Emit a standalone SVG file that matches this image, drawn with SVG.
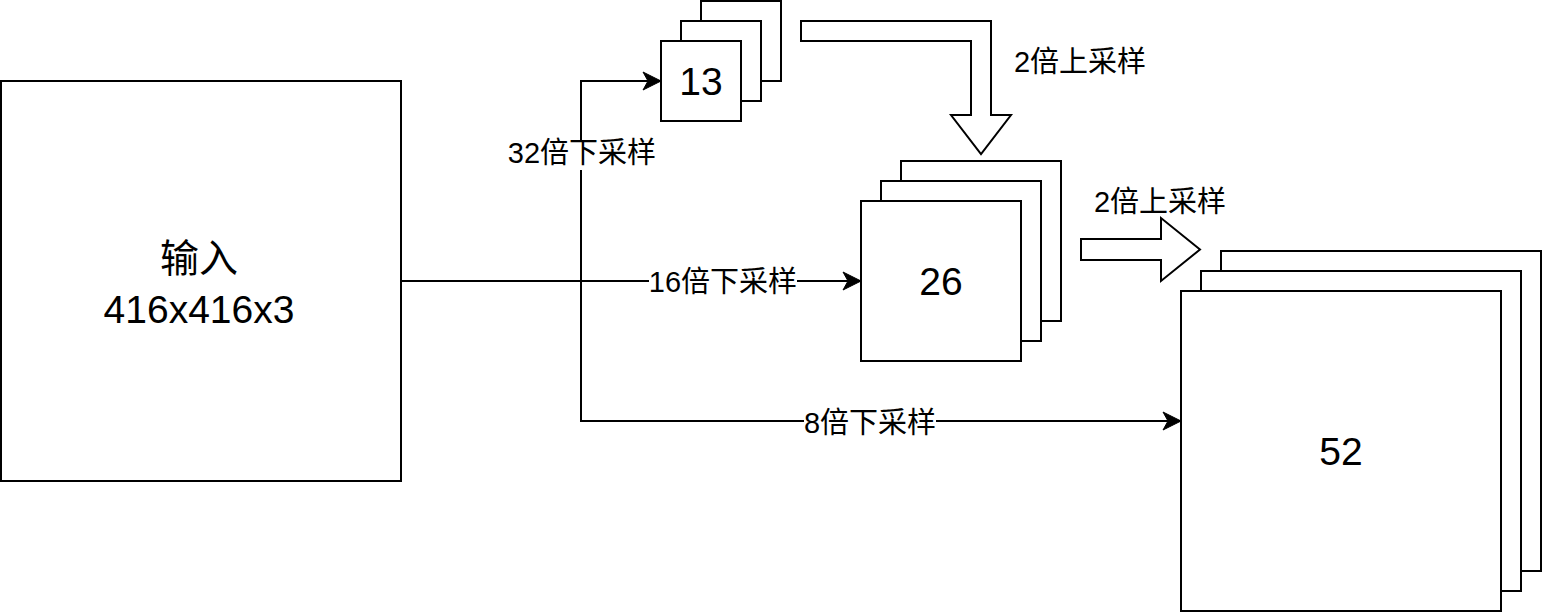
<svg xmlns="http://www.w3.org/2000/svg" width="1542" height="614" viewBox="0 0 1542 614">
  <style>
    .box { fill: #ffffff; stroke: #000000; stroke-width: 2; }
    .line { fill: none; stroke: #000000; stroke-width: 2; }
    .big { font-family: "Liberation Sans", "Noto Sans CJK SC", sans-serif; font-size: 39px; fill: #000000; text-anchor: middle; }
    .lbl { font-family: "Liberation Sans", "Noto Sans CJK SC", sans-serif; font-size: 29px; fill: #000000; text-anchor: middle; }
    .lblbg { fill: #ffffff; stroke: none; }
  </style>
  <defs>
    <marker id="arrow" markerUnits="userSpaceOnUse" markerWidth="20" markerHeight="20" refX="19" refY="10" orient="auto" overflow="visible">
      <path d="M1,1 L19,10 L1,19 L6,10 Z" fill="#000000" stroke="#000000" stroke-width="1"/>
    </marker>
  </defs>
  <rect x="0" y="0" width="1542" height="614" fill="#ffffff"/>

  <g id="input">
    <rect class="box" x="1" y="81" width="400" height="400"/>
    <text class="big" x="199" y="272">输入</text>
    <text class="big" x="199" y="323">416x416x3</text>
  </g>

  <g id="stack13">
    <rect class="box" x="701" y="1" width="80" height="80"/>
    <rect class="box" x="681" y="21" width="80" height="80"/>
    <rect class="box" x="661" y="41" width="80" height="80"/>
    <text class="big" x="701" y="95">13</text>
  </g>

  <g id="stack26">
    <rect class="box" x="901" y="161" width="160" height="160"/>
    <rect class="box" x="881" y="181" width="160" height="160"/>
    <rect class="box" x="861" y="201" width="160" height="160"/>
    <text class="big" x="941" y="295">26</text>
  </g>

  <g id="stack52">
    <rect class="box" x="1221" y="251" width="320" height="320"/>
    <rect class="box" x="1201" y="271" width="320" height="320"/>
    <rect class="box" x="1181" y="291" width="320" height="320"/>
    <text class="big" x="1341" y="465">52</text>
  </g>

  <g id="upsample1">
    <path class="box" d="M801,21 L991,21 L991,115 L1011,115 L981,154 L951,115 L971,115 L971,41 L801,41 Z"/>
    <text class="lbl" x="1080" y="72">2倍上采样</text>
  </g>

  <g id="upsample2">
    <path class="box" d="M1081,239 L1161,239 L1161,218 L1200,249.5 L1161,281 L1161,260 L1081,260 Z"/>
    <text class="lbl" x="1160" y="212">2倍上采样</text>
  </g>

  <g id="connectors">
    <path class="line" d="M401,281 L861,281" marker-end="url(#arrow)"/>
    <path class="line" d="M581,281 L581,81 L661,81" marker-end="url(#arrow)"/>
    <path class="line" d="M581,281 L581,421 L1181,421" marker-end="url(#arrow)"/>
    <rect class="lblbg" x="508" y="141" width="148" height="29"/>
    <text class="lbl" x="582" y="163">32倍下采样</text>
    <rect class="lblbg" x="649" y="269" width="148" height="29"/>
    <text class="lbl" x="723" y="292">16倍下采样</text>
    <rect class="lblbg" x="804" y="409" width="132" height="29"/>
    <text class="lbl" x="870" y="433">8倍下采样</text>
  </g>
</svg>
